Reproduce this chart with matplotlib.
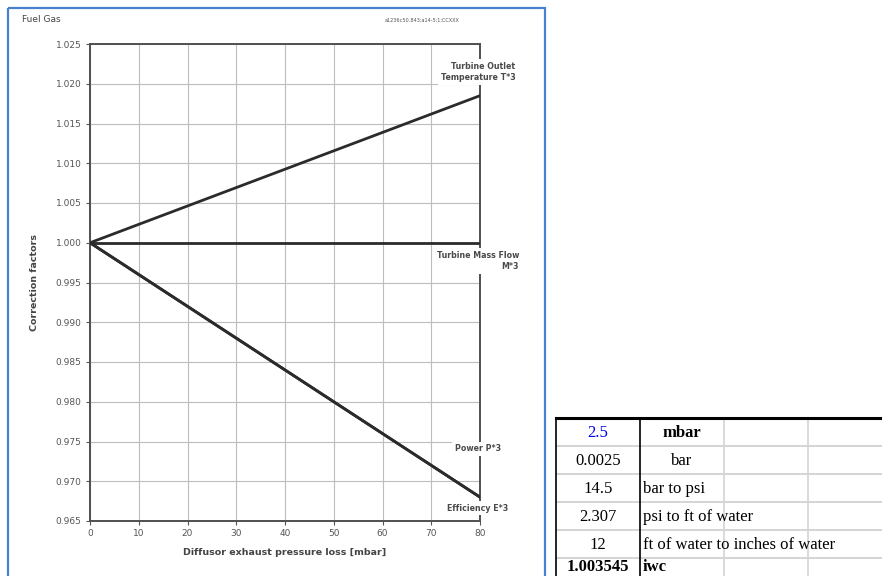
import matplotlib
matplotlib.use("Agg")
import matplotlib.pyplot as plt
from matplotlib.patches import Rectangle

# chart data
pressure_loss = [0, 80]
temp_factor = [1.000, 1.0185]
mass_flow_factor = [1.000, 1.000]
power_factor = [1.000, 0.968]
efficiency_factor = [1.000, 0.968]

x_ticks = [0, 10, 20, 30, 40, 50, 60, 70, 80]
y_ticks = [0.965, 0.970, 0.975, 0.980, 0.985, 0.990, 0.995, 1.000,
           1.005, 1.010, 1.015, 1.020, 1.025]

curve_labels = ["Turbine Outlet\nTemperature T*3", "Turbine Mass Flow\nM*3",
                "Power P*3", "Efficiency E*3"]
curve_label_y = [1.0215, 0.9977, 0.9741, 0.9666]

# spreadsheet cells next to the chart
table_values = ["2.5", "0.0025", "14.5", "2.307", "12", "1.003545"]
table_units = ["mbar", "bar", "bar to psi", "psi to ft of water",
               "ft of water to inches of water", "iwc"]

W, H = 882, 576
fig = plt.figure(figsize=(W / 100, H / 100), dpi=100)

text_gray = "#555555"
grid_gray = "#bdbdbd"
spine_gray = "#505050"
line_dark = "#2b2b2b"

ax = fig.add_axes([90 / W, 1 - 521 / H, 390 / W, 477 / H])
ax.plot(pressure_loss, temp_factor, color=line_dark, lw=2.0, zorder=3)
ax.plot(pressure_loss, mass_flow_factor, color=line_dark, lw=2.0, zorder=3)
ax.plot(pressure_loss, power_factor, color=line_dark, lw=2.0, zorder=3)
ax.plot(pressure_loss, efficiency_factor, color=line_dark, lw=2.0, zorder=3)

ax.set_xlim(0, 80)
ax.set_ylim(0.965, 1.025)
ax.set_xticks(x_ticks)
ax.set_yticks(y_ticks)
ax.set_yticklabels([f"{v:.3f}" for v in y_ticks])
ax.tick_params(labelsize=6.5, colors=text_gray, length=3, width=0.8, pad=3)
ax.grid(color=grid_gray, lw=0.8)
for s in ax.spines.values():
    s.set_color(spine_gray)
    s.set_linewidth(1.4)

for lab, yv in zip(curve_labels, curve_label_y):
    ax.text(79.6, yv, lab, ha="center", va="center", multialignment="right",
            fontsize=5.7, fontweight="bold", color="#4a4a4a", linespacing=1.35,
            bbox=dict(facecolor="white", edgecolor="none", pad=1.8),
            zorder=5, clip_on=False)

ax.set_xlabel("Diffusor exhaust pressure loss [mbar]", fontsize=6.8,
              fontweight="bold", color="#444444", labelpad=7)
ax.set_ylabel("Correction factors", fontsize=6.8, fontweight="bold",
              color="#444444", labelpad=12)

fig.text(22 / W, 1 - 20 / H, "Fuel Gas", fontsize=6.5, color="#444444",
         va="center", ha="left")
fig.text(460 / W, 1 - 20 / H, "a1236c50.843;a14-5;1;CCXXX", fontsize=3.6,
         color="#555555", va="center", ha="right")

# overlay in pixel coordinates for the panel border and the table
ov = fig.add_axes([0, 0, 1, 1], zorder=10)
ov.set_xlim(0, W)
ov.set_ylim(H, 0)
ov.axis("off")
ov.patch.set_alpha(0)

ov.add_patch(Rectangle((8, 8), 537, 600, fill=False, edgecolor="#4a80d0",
                       lw=1.6))

tx = [556, 640, 724, 808, 892]
row_h = 28
top = 418
n_rows = len(table_values)
for i in range(1, n_rows):
    ov.plot([tx[0], W], [top + i * row_h] * 2, color="#d4d4d4", lw=1.4)
for xv in tx[2:4]:
    ov.plot([xv, xv], [top, H], color="#d4d4d4", lw=1.2)
ov.plot([tx[0], W], [top, top], color="black", lw=2.2)
ov.plot([tx[0], tx[0]], [top, H], color="black", lw=1.2)
ov.plot([tx[1], tx[1]], [top, H], color="black", lw=1.2)

for i, (val, unit) in enumerate(zip(table_values, table_units)):
    last = i == n_rows - 1
    yc = top + i * row_h + row_h / 2 + 1
    # last row is cut by the picture edge, keep its text just inside
    va = "center"
    if last:
        yc, va = H - 1, "bottom"
    ov.text((tx[0] + tx[1]) / 2, yc, val, ha="center", va=va,
            fontsize=12, family="Liberation Serif",
            color="#0000ee" if i == 0 else "black",
            fontweight="bold" if last else "normal")
    if i < 2:
        ov.text((tx[1] + tx[2]) / 2, yc, unit, ha="center", va=va,
                fontsize=12, family="Liberation Serif",
                fontweight="bold" if i == 0 else "normal")
    else:
        ov.text(tx[1] + 3, yc, unit, ha="left", va=va, fontsize=12,
                family="Liberation Serif",
                fontweight="bold" if last else "normal")

fig.savefig("out.png", dpi=100)
